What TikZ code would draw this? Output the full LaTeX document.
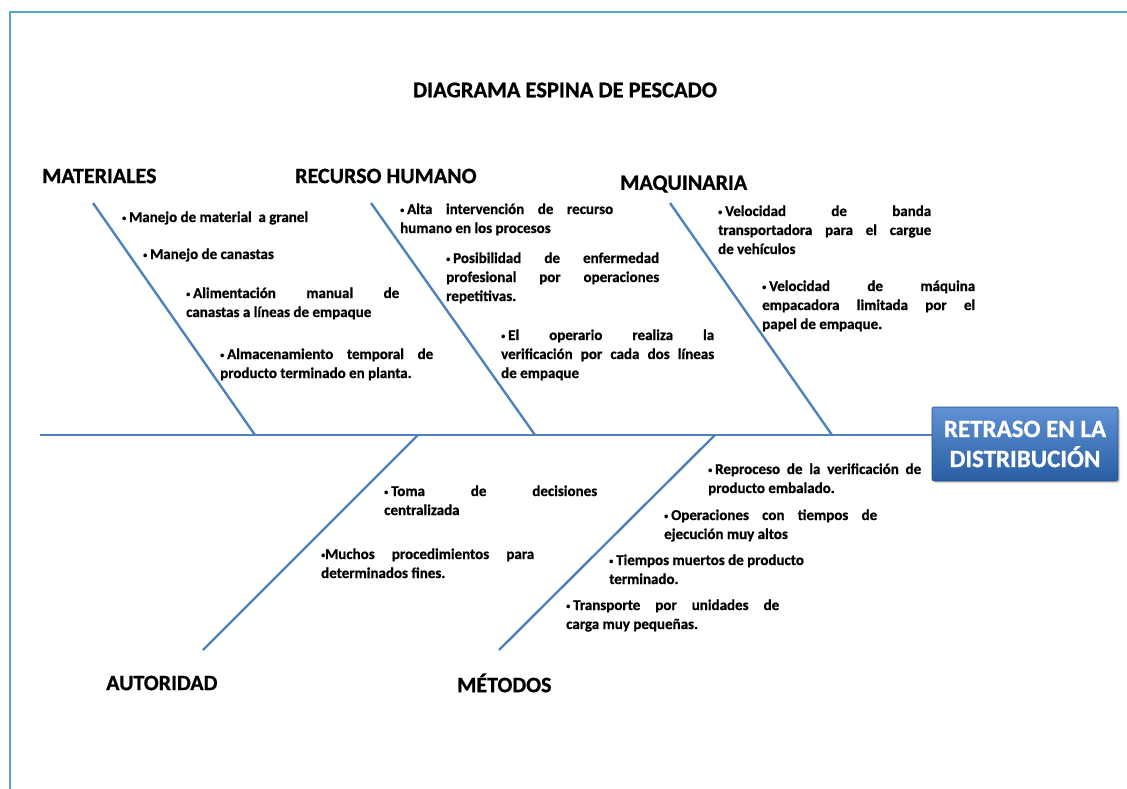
\documentclass[tikz,border=0pt]{standalone}
\usepackage{fontspec}
\setmainfont{Carlito}[BoldFont={Carlito Bold}, BoldFeatures={FakeBold=0.8}]
\usetikzlibrary{shadows}
\definecolor{bone}{RGB}{79,129,189}
\definecolor{frame}{RGB}{88,166,196}
\definecolor{boxtop}{RGB}{96,146,212}
\definecolor{boxbot}{RGB}{40,94,162}
% small bullet followed by a fixed gap
\newcommand{\bul}{{\fontsize{8}{8}\selectfont\raisebox{0.35ex}{•}}\nobreak\hspace{3pt}}
\tikzset{
  bonestyle/.style={draw=bone, line width=2.4pt},
  cause/.style={font=\bfseries\fontsize{22}{26}\selectfont, inner sep=0pt, anchor=west},
  item/.style={font=\bfseries\fontsize{15}{19}\selectfont,
    text width=213pt, align=justify, inner sep=0pt, anchor=base west},
  effect/.style={draw=boxbot!80!black, line width=0.6pt, rounded corners=2pt,
    top color=boxtop, bottom color=boxbot, text=white,
    font=\bfseries\fontsize{25}{30}\selectfont, align=center,
    minimum width=186pt, minimum height=74pt, inner sep=2pt,
    drop shadow={shadow xshift=2pt, shadow yshift=-2pt, opacity=0.35}},
}
\begin{document}
\begin{tikzpicture}[x=1pt, y=-1pt]
  \useasboundingbox (0,0) rectangle (1127,789);
  % outer frame (top and left edges)
  \draw[frame, line width=2.6pt] (10,789) -- (10,12) -- (1127,12);

  % title
  \node[font=\bfseries\fontsize{22.5}{26}\selectfont, inner sep=0pt] (title) at (565,90)
    {DIAGRAMA ESPINA DE PESCADO};

  % effect
  \node[effect] (effect) at (1025,444) {RETRASO EN LA\\DISTRIBUCIÓN};

  % spine
  \coordinate (tail) at (40,435);
  \draw[bonestyle] (tail) -- (effect.west |- tail);

  % bone end points
  \coordinate (matTop) at (93,203);  \coordinate (matEnd) at (255,435);
  \coordinate (rhTop)  at (371,203); \coordinate (rhEnd)  at (535,435);
  \coordinate (maqTop) at (670,203); \coordinate (maqEnd) at (832,435);
  \coordinate (autBot) at (203,650); \coordinate (autEnd) at (418,435);
  \coordinate (metBot) at (499,650); \coordinate (metEnd) at (715,435);
  \draw[bonestyle] (matTop) -- (matEnd);
  \draw[bonestyle] (rhTop) -- (rhEnd);
  \draw[bonestyle] (maqTop) -- (maqEnd);
  \draw[bonestyle] (autBot) -- (autEnd);
  \draw[bonestyle] (metBot) -- (metEnd);

  % cause headings
  \node[cause] (materiales) at (42,176) {MATERIALES};
  \node[cause] (recurso) at (295,176) {RECURSO HUMANO};
  \node[cause] (maquinaria) at (620,184) {MAQUINARIA};
  \node[cause] (autoridad) at (106,683) {AUTORIDAD};
  \node[cause] (metodos) at (457,683) {MÉTODOS};

  % materiales
  \node[item] (m1) at (122,222) {\bul Manejo de material\ \ a granel};
  \node[item] (m2) at (143,259) {\bul Manejo de canastas};
  \node[item] (m3) at (186,298) {\bul Alimentación manual de\linebreak canastas a líneas de empaque};
  \node[item] (m4) at (220,359) {\bul Almacenamiento temporal de\linebreak producto terminado en planta.};

  % recurso humano
  \node[item] (r1) at (400,214) {\bul Alta intervención de recurso\linebreak humano en los procesos};
  \node[item] (r2) at (446,263) {\bul Posibilidad de enfermedad\linebreak profesional por operaciones\linebreak repetitivas.};
  \node[item] (r3) at (501,340) {\bul El operario realiza la\linebreak verificación por cada dos líneas\linebreak de empaque};

  % maquinaria
  \node[item] (q1) at (718,216) {\bul Velocidad de banda\linebreak transportadora para el cargue\linebreak de vehículos};
  \node[item] (q2) at (762,291) {\bul Velocidad de máquina\linebreak empacadora limitada por el\linebreak papel de empaque.};

  % autoridad
  \node[item] (a1) at (384,496) {\bul Toma de decisiones\linebreak centralizada};
  \node[item] (a2) at (321,559) {{\fontsize{8}{8}\selectfont\raisebox{0.35ex}{•}}Muchos procedimientos para\linebreak determinados fines.};

  % metodos
  \node[item] (t1) at (708,474) {\bul Reproceso de la verificación de\linebreak producto embalado.};
  \node[item] (t2) at (664,520) {\bul Operaciones con tiempos de\linebreak ejecución muy altos};
  \node[item] (t3) at (609,565) {\bul Tiempos muertos de producto\newline terminado.};
  \node[item] (t4) at (566,610) {\bul Transporte por unidades de\linebreak carga muy pequeñas.};
\end{tikzpicture}
\end{document}
